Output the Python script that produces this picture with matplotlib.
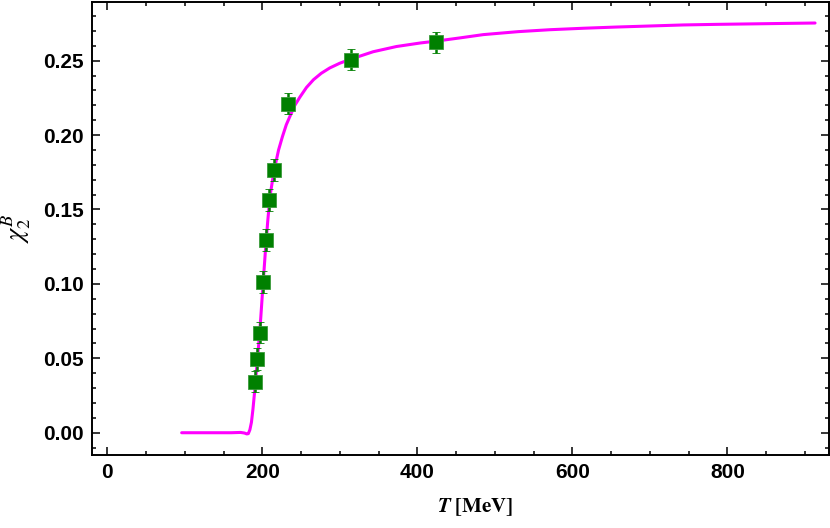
import matplotlib
matplotlib.use("Agg")
import matplotlib.pyplot as plt
from matplotlib.ticker import MultipleLocator, FormatStrFormatter

# ---- data ----
lat_T = [190.4, 193.4, 196.8, 201.0, 205.3, 209.2, 215.6, 233.4, 314.3, 424.7]
lat_chi = [0.0343, 0.0496, 0.0673, 0.1012, 0.1296, 0.1565, 0.1765, 0.2211, 0.2507, 0.2623]
lat_err = [0.0072, 0.0072, 0.0072, 0.0072, 0.0072, 0.0072, 0.0072, 0.0072, 0.0072, 0.0072]

curve_T = [96, 130, 160, 172, 177, 180, 182, 184, 186, 188, 190, 192.5, 195, 198,
           201, 204, 207, 210, 213, 216, 221, 226, 231, 236, 242, 248.5, 257, 266,
           276, 287, 300, 314, 343, 373, 404, 425, 455, 485, 530, 571, 615, 657,
           700, 743, 786, 829, 870, 913]
curve_chi = [0.0, 0.0, 0.0, 0.0002, -0.0002, -0.0008, -0.0006, 0.002, 0.007, 0.016,
             0.027, 0.042, 0.057, 0.077, 0.100, 0.122, 0.142, 0.159, 0.169, 0.178,
             0.190, 0.199, 0.207, 0.213, 0.220, 0.2255, 0.232, 0.2372, 0.2415, 0.2451,
             0.2483, 0.2510, 0.2560, 0.2595, 0.2619, 0.2632, 0.2653, 0.2675, 0.2695,
             0.2708, 0.2718, 0.2726, 0.2733, 0.2740, 0.2744, 0.2747, 0.2750, 0.2753]

x_ticks = [0, 200, 400, 600, 800]
y_ticks = [0.00, 0.05, 0.10, 0.15, 0.20, 0.25]

plt.rcParams['mathtext.fontset'] = 'stix'

fig = plt.figure(figsize=(8.3, 5.28), dpi=100)
ax = fig.add_axes([0.1108, 0.139, 0.888, 0.858])

ax.plot(curve_T, curve_chi, color='#ff00ff', lw=2.2, zorder=2, solid_capstyle='round')
ax.errorbar(lat_T, lat_chi, yerr=lat_err, fmt='s', color='#008000', ms=9.5,
            mec='#3a9a3a', mew=0.6, elinewidth=1.8, capsize=2.8, capthick=2.0, zorder=3)

ax.set_xlim(-19.7, 931)
ax.set_ylim(-0.0147, 0.2897)
ax.set_xticks(x_ticks)
ax.set_yticks(y_ticks)
ax.xaxis.set_minor_locator(MultipleLocator(50))
ax.yaxis.set_minor_locator(MultipleLocator(0.01))
ax.yaxis.set_major_formatter(FormatStrFormatter('%.2f'))

ax.tick_params(which='both', direction='in', top=True, right=True, width=1.1)
ax.tick_params(which='major', length=5.5)
ax.tick_params(which='minor', length=3)
ax.tick_params(axis='x', which='major', pad=6)
ax.tick_params(axis='y', which='major', pad=6)
for lab in ax.get_xticklabels() + ax.get_yticklabels():
    lab.set_fontfamily('Liberation Sans')
    lab.set_fontweight('bold')
    lab.set_fontsize(15)
for sp in ax.spines.values():
    sp.set_linewidth(1.4)

ax.set_xlabel(r'$\mathbfit{T}\ \mathbf{[MeV]}$', fontsize=15)
ax.xaxis.set_label_coords(0.52, -0.093)
ax.set_ylabel(r'$\chi_2^B$', fontsize=19)
ax.yaxis.set_label_coords(-0.08, 0.5)

fig.savefig('out.png', dpi=100)
